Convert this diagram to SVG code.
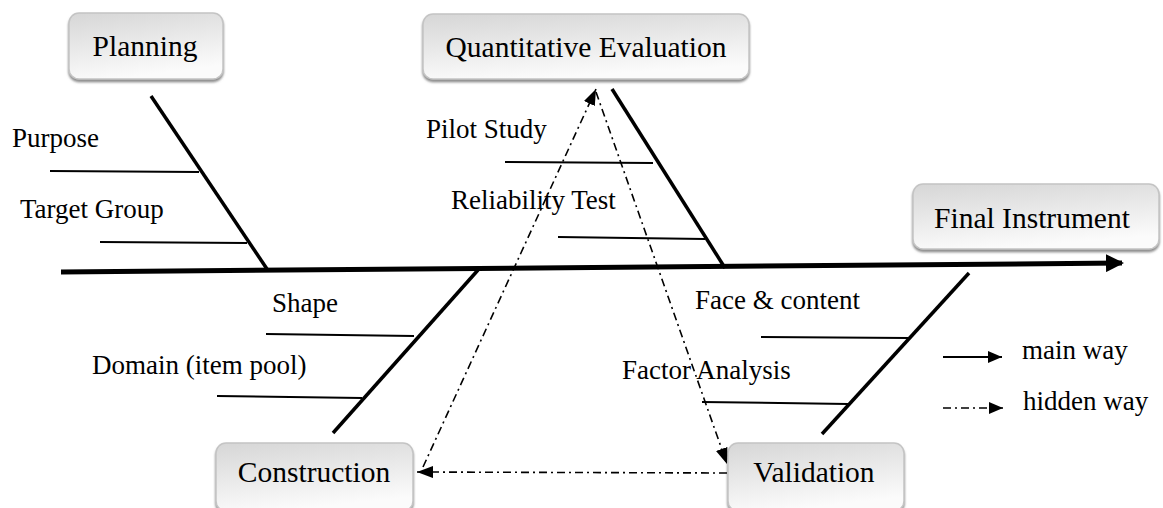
<svg xmlns="http://www.w3.org/2000/svg" width="1163" height="508" viewBox="0 0 1163 508">
<style>
.box{fill:url(#g);stroke:#c4c4c4;stroke-width:1.5;filter:url(#sh)}
.bt{font-family:"Liberation Serif","Times New Roman",serif;font-size:29.5px;fill:#000;text-anchor:middle}
.lb{font-family:"Liberation Serif","Times New Roman",serif;font-size:27px;fill:#000}
.bone{stroke:#000;stroke-width:3.5;fill:none}
.sub{stroke:#000;stroke-width:2;fill:none}
.hid{stroke:#000;stroke-width:1.6;fill:none;stroke-dasharray:8 4 2 4}
</style>
<defs>
<linearGradient id="g" x1="0" y1="0" x2="0.3" y2="1">
<stop offset="0" stop-color="#d6d6d6"/>
<stop offset="1" stop-color="#fbfbfb"/>
</linearGradient>
<filter id="sh" x="-5%" y="-10%" width="110%" height="130%">
<feDropShadow dx="0" dy="2.5" stdDeviation="1" flood-color="#777" flood-opacity="0.85"/>
</filter>
<marker id="ah" markerWidth="16" markerHeight="12" refX="16" refY="6" orient="auto" markerUnits="userSpaceOnUse">
<path d="M0,0 L16,6 L0,12 Z" fill="#000"/>
</marker>
<marker id="lg" markerWidth="14" markerHeight="12" refX="14" refY="6" orient="auto" markerUnits="userSpaceOnUse">
<path d="M0,0 L14,6 L0,12 Z" fill="#000"/>
</marker>
<marker id="sp" markerWidth="18" markerHeight="18" refX="16" refY="9" orient="auto" markerUnits="userSpaceOnUse">
<path d="M0,0 L18,9 L0,18 Z" fill="#000"/>
</marker>
</defs>
<g id="planning"><rect class="box" x="69" y="13" width="154" height="66" rx="10"/><text class="bt" x="145" y="56">Planning</text></g>
<g id="quantitative-evaluation"><rect class="box" x="423" y="14" width="326" height="65" rx="10"/><text class="bt" x="586" y="57">Quantitative Evaluation</text></g>
<g id="final-instrument"><rect class="box" x="913" y="184" width="246" height="65" rx="10"/><text class="bt" x="1032" y="228">Final Instrument</text></g>
<g id="construction"><rect class="box" x="216" y="443" width="197" height="68" rx="10"/><text class="bt" x="314" y="482">Construction</text></g>
<g id="validation"><rect class="box" x="728" y="443" width="176" height="68" rx="10"/><text class="bt" x="814" y="482">Validation</text></g>
<g id="labels">
<text class="lb" x="12" y="147">Purpose</text>
<text class="lb" x="20" y="218">Target Group</text>
<text class="lb" x="426" y="138">Pilot Study</text>
<text class="lb" x="451" y="209">Reliability Test</text>
<text class="lb" x="272" y="312">Shape</text>
<text class="lb" x="92" y="374">Domain (item pool)</text>
<text class="lb" x="695" y="309">Face &amp; content</text>
<text class="lb" x="622" y="379">Factor Analysis</text>
<text class="lb" x="1022" y="359">main way</text>
<text class="lb" x="1023" y="410">hidden way</text>
</g>
<g id="connectors">
<line x1="61" y1="272" x2="1122" y2="263" stroke="#000" stroke-width="5" marker-end="url(#sp)"/>
<line class="bone" x1="151" y1="96" x2="267" y2="269"/>
<line class="sub" x1="50" y1="171" x2="199" y2="172"/>
<line class="sub" x1="100" y1="242" x2="247" y2="243"/>
<line class="bone" x1="612" y1="89" x2="725" y2="268"/>
<line class="sub" x1="505" y1="162" x2="653" y2="163"/>
<line class="sub" x1="558" y1="237" x2="705" y2="239"/>
<line class="bone" x1="478" y1="270" x2="333" y2="433"/>
<line class="sub" x1="266" y1="334" x2="414" y2="336"/>
<line class="sub" x1="217" y1="396" x2="362" y2="398"/>
<line class="bone" x1="969" y1="273" x2="822" y2="434"/>
<line class="sub" x1="761" y1="337" x2="908" y2="338"/>
<line class="sub" x1="702" y1="402" x2="848" y2="404"/>
<line class="hid" x1="423" y1="467" x2="596" y2="89" marker-end="url(#ah)"/>
<line class="hid" x1="596" y1="92" x2="727" y2="464" marker-end="url(#ah)"/>
<line class="hid" x1="727" y1="473" x2="417" y2="472" marker-end="url(#ah)"/>
<line x1="943" y1="357" x2="1002" y2="357" stroke="#000" stroke-width="1.8" marker-end="url(#lg)"/>
<line class="hid" x1="943" y1="408" x2="1003" y2="408" stroke-dasharray="6 4 2 4" marker-end="url(#lg)"/>
</g>
</svg>
